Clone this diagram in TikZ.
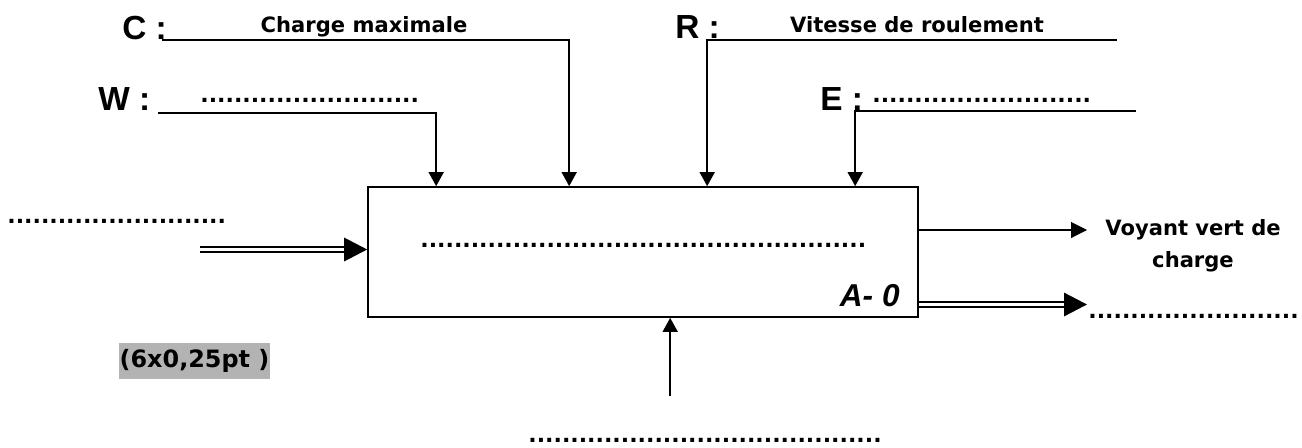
\documentclass[tikz,border=0pt]{standalone}
\usepackage{fontspec}
\setmainfont{DejaVu Sans}
\newfontfamily\arialfont{Liberation Sans}
\usetikzlibrary{calc}
\usetikzlibrary{arrows.meta}
\definecolor{notegray}{HTML}{B3B3B3}
\tikzstyle{box}=[draw, line width=1pt, minimum width=11cm, minimum height=2.6cm]
\tikzstyle{label}=[font=\bfseries\fontsize{12}{18}\selectfont, inner sep=0pt]
\tikzstyle{letter}=[font=\arialfont\bfseries\fontsize{19}{22}\selectfont, inner sep=0pt, anchor=base west]
\tikzstyle{tag}=[font=\arialfont\bfseries\itshape\fontsize{18}{22}\selectfont, inner sep=0pt]
\tikzstyle{dotrow}=[font=\bfseries\fontsize{12.6}{14}\selectfont, inner sep=0pt, anchor=base west]
\tikzstyle{note}=[fill=notegray, font=\bfseries\fontsize{13.6}{16}\selectfont, inner sep=0pt, minimum width=3.02cm, minimum height=0.72cm]
\tikzstyle{ctrl}=[line width=0.85pt, -{Triangle[length=0.28cm,width=0.3cm]}]
\tikzstyle{flow}=[line width=0.6pt, -{Triangle[length=0.32cm,width=0.32cm]}]
\tikzstyle{dblline}=[double, double distance=2pt, line width=0.85pt]
\tikzstyle{dblhead}=[line width=0.85pt, -{Triangle[length=0.46cm,width=0.47cm]}]
\newcommand{\drawdots}[1]{\foreach \i in {1,...,#1}{.}}
\newcommand{\drawdoubleflow}[2]{
\draw[dblline, shorten >=0.4cm] (#1) -- (#2);
\draw[dblhead] ($(#2)+(-2,0)$) -- (#2);
}

\begin{document}
\begin{tikzpicture}[x=0.02cm,y=-0.02cm]
  \useasboundingbox (0,0) rectangle (1302,447);
  % activite
  \node[box] (act) at (643,252) {};
  \node[dotrow] (actdots) at (420,247) {\drawdots{53}};
  \node[tag, anchor=base east] (actid) at (900,306) {A- 0};
  % controles
  \node[letter] (clab) at (122,39) {C :};
  \node[label, anchor=base] (ctext) at (364,32) {Charge maximale};
  \coordinate (cstart) at (162,40);
  \draw[ctrl] (cstart) -| ($(act.north west)+(202,0)$);
  \node[letter] (wlab) at (98,110) {W :};
  \node[dotrow] (wdots) at (200,102) {\drawdots{26}};
  \coordinate (wstart) at (158,113);
  \draw[ctrl] (wstart) -| ($(act.north west)+(69,0)$);
  \node[letter] (rlab) at (675,38) {R :};
  \node[label, anchor=base] (rtext) at (917,32) {Vitesse de roulement};
  \coordinate (rend) at (1117,40);
  \draw[ctrl] (rend) -| ($(act.north west)+(340,0)$);
  \node[letter] (elab) at (820,110) {E :};
  \node[dotrow] (edots) at (872,102) {\drawdots{26}};
  \coordinate (eend) at (1136,111);
  \draw[ctrl] (eend) -| ($(act.north west)+(488,0)$);
  % entree
  \node[dotrow] (indots) at (7,223) {\drawdots{26}};
  \coordinate (instart) at (200,249.5);
  \coordinate (intip) at (act.west |- instart);
  \drawdoubleflow{instart}{intip}
  % sorties
  \coordinate (voytip) at (1087,230);
  \draw[flow] (act.east |- voytip) -- (voytip);
  \node[label, align=center, anchor=base] (voytext) at (1193,267) {Voyant vert de\\charge};
  \coordinate (outtip) at (1087,304.5);
  \coordinate (outstart) at (act.east |- outtip);
  \drawdoubleflow{outstart}{outtip}
  \node[dotrow] (outdots) at (1088,318) {\drawdots{25}};
  % support
  \coordinate (mectail) at ($(act.south west)+(303,78)$);
  \draw[ctrl] (mectail) -- (act.south -| mectail);
  \node[dotrow] (mecdots) at (528,442) {\drawdots{42}};
  \node[note] (pts) at (194.5,361) {(6x0,25pt )};
\end{tikzpicture}
\end{document}
